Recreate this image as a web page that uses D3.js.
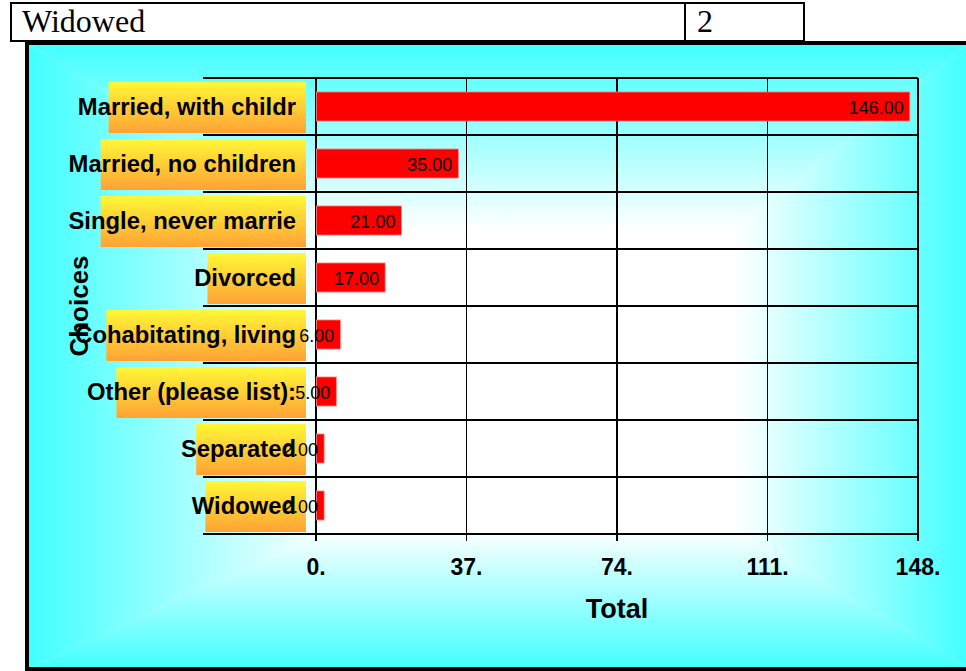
<!DOCTYPE html>
<html>
<head>
<meta charset="utf-8">
<script src="https://cdn.jsdelivr.net/npm/d3@7/dist/d3.min.js"></script>
<style>
  html, body { margin: 0; padding: 0; background: #ffffff; }
  svg { display: block; }
</style>
</head>
<body>
<script>
// ---- data ----
const categories = ["Married, with childr", "Married, no children", "Single, never marrie", "Divorced",
                    "Cohabitating, living", "Other (please list):", "Separated", "Widowed"];
const totals = [146, 35, 21, 17, 6, 5, 2, 2];
const tickValues = [0, 37, 74, 111, 148];
const tickLabels = ["0.", "37.", "74.", "111.", "148."];
const tableRow = ["Widowed", "2"];
const xTitle = "Total";
const yTitle = "Choices";

const W = 966, H = 671;
const svg = d3.select("body").append("svg").attr("width", W).attr("height", H);
const defs = svg.append("defs");
const SANS = "'Liberation Sans', Arial, Helvetica, sans-serif";
const SERIF = "'Liberation Serif', 'Times New Roman', serif";

// ---- top table row ----
svg.append("rect").attr("x", 11).attr("y", 3).attr("width", 793).attr("height", 38)
  .attr("fill", "#fff").attr("stroke", "#000").attr("stroke-width", 2);
svg.append("line").attr("x1", 685).attr("x2", 685).attr("y1", 3).attr("y2", 41)
  .attr("stroke", "#000").attr("stroke-width", 2);
svg.append("text").attr("x", 22).attr("y", 32).text(tableRow[0])
  .attr("font-family", SERIF).attr("font-size", 32).attr("fill", "#000");
svg.append("text").attr("x", 697).attr("y", 32).text(tableRow[1])
  .attr("font-family", SERIF).attr("font-size", 32).attr("fill", "#000");

// ---- chart frame with rectangular "from centre" gradient ----
const O = {x0: 27, y0: 43, x1: 970, y1: 669};
const I = {x0: 330, y0: 230, x1: 735, y1: 530};
const cyan = "#40ffff";
function grad(id, x1, y1, x2, y2) {
  const g = defs.append("linearGradient").attr("id", id).attr("gradientUnits", "userSpaceOnUse")
    .attr("x1", x1).attr("y1", y1).attr("x2", x2).attr("y2", y2);
  g.append("stop").attr("offset", 0).attr("stop-color", cyan);
  g.append("stop").attr("offset", 1).attr("stop-color", "#ffffff");
}
grad("gL", O.x0, 0, I.x0, 0);
grad("gR", O.x1, 0, I.x1, 0);
grad("gT", 0, O.y0, 0, I.y0);
grad("gB", 0, O.y1, 0, I.y1);
const bg = svg.append("g");
bg.append("rect").attr("x", I.x0 - 1).attr("y", I.y0 - 1).attr("width", I.x1 - I.x0 + 2).attr("height", I.y1 - I.y0 + 2).attr("fill", "#fff");
const poly = pts => pts.map(p => p.join(",")).join(" ");
bg.append("polygon").attr("fill", "url(#gL)").attr("points", poly([[O.x0,O.y0],[I.x0,I.y0],[I.x0,I.y1],[O.x0,O.y1]]));
bg.append("polygon").attr("fill", "url(#gR)").attr("points", poly([[O.x1,O.y0],[I.x1,I.y0],[I.x1,I.y1],[O.x1,O.y1]]));
bg.append("polygon").attr("fill", "url(#gT)").attr("points", poly([[O.x0,O.y0],[O.x1,O.y0],[I.x1,I.y0],[I.x0,I.y0]]));
bg.append("polygon").attr("fill", "url(#gB)").attr("points", poly([[O.x0,O.y1],[O.x1,O.y1],[I.x1,I.y1],[I.x0,I.y1]]));
svg.append("rect").attr("x", O.x0).attr("y", O.y0).attr("width", O.x1 - O.x0).attr("height", O.y1 - O.y0)
  .attr("fill", "none").attr("stroke", "#000").attr("stroke-width", 4);

// ---- scales ----
const plot = {left: 316, right: 918, top: 78, bottom: 534};
const x = d3.scaleLinear().domain([0, 148]).range([plot.left, plot.right]);
const yBand = d3.scaleBand().domain(categories).range([plot.top, plot.bottom]).padding(0);
const yBar = d3.scaleBand().domain(categories).range([plot.top, plot.bottom]).paddingInner(0.49).paddingOuter(0.245);

// ---- grid ----
const grid = svg.append("g").attr("stroke", "#000").attr("shape-rendering", "crispEdges");
const hLines = [plot.top].concat(categories.map(c => yBand(c) + yBand.bandwidth()));
grid.selectAll("line.h").data(hLines).join("line").attr("class", "h")
  .attr("x1", 203).attr("x2", plot.right).attr("y1", d => d).attr("y2", d => d).attr("stroke-width", 1.3);
grid.selectAll("line.v").data(tickValues).join("line").attr("class", "v")
  .attr("x1", d => x(d)).attr("x2", d => x(d)).attr("y1", plot.top).attr("y2", plot.bottom + 7).attr("stroke-width", 1.1);

// ---- category label boxes and labels ----
const boxGrad = defs.append("linearGradient").attr("id", "boxG").attr("x1", 0).attr("y1", 0).attr("x2", 0).attr("y2", 1);
boxGrad.append("stop").attr("offset", 0).attr("stop-color", "#fff835");
boxGrad.append("stop").attr("offset", 1).attr("stop-color", "#ffa236");

const labG = svg.append("g");
const boxes = labG.selectAll("rect").data(categories).join("rect").attr("fill", "url(#boxG)");
const labs = labG.selectAll("text").data(categories).join("text")
  .attr("x", 296).attr("y", d => yBand(d) + yBand.bandwidth() / 2 + 8.5)
  .attr("text-anchor", "end").attr("font-family", SANS).attr("font-weight", "bold").attr("font-size", 23.8)
  .attr("fill", "#000").text(d => d);
labs.each(function (d) {
  const len = this.getComputedTextLength();
  const bw = 0.85 * len + 12;
  boxes.filter(c => c === d)
    .attr("x", 306 - bw).attr("width", bw)
    .attr("y", yBand(d) + 4).attr("height", yBand.bandwidth() - 6);
});

// ---- bars ----
svg.append("g").selectAll("rect").data(categories).join("rect")
  .attr("x", x(0) + 0.5).attr("y", d => yBar(d))
  .attr("width", (d, i) => x(totals[i]) - x(0) - 0.5).attr("height", yBar.bandwidth())
  .attr("fill", "#ff0000").attr("stroke", "#ff8a8a").attr("stroke-width", 0.8);

// ---- value labels ----
svg.append("g").selectAll("text").data(categories).join("text")
  .attr("x", (d, i) => x(totals[i]) - 6).attr("y", d => yBand(d) + yBand.bandwidth() / 2 + 7)
  .attr("text-anchor", "end").attr("font-family", SANS).attr("font-size", 18).attr("fill", "#000")
  .text((d, i) => totals[i].toFixed(2));

// ---- x axis tick labels ----
svg.append("g").selectAll("text").data(tickValues).join("text")
  .attr("x", d => x(d)).attr("y", 575).attr("text-anchor", "middle")
  .attr("font-family", SANS).attr("font-weight", "bold").attr("font-size", 23).attr("fill", "#000")
  .text((d, i) => tickLabels[i]);

// ---- axis titles ----
svg.append("text").attr("x", (plot.left + plot.right) / 2).attr("y", 618).attr("text-anchor", "middle")
  .attr("font-family", SANS).attr("font-weight", "bold").attr("font-size", 27).attr("fill", "#000").text(xTitle);
svg.append("text").attr("transform", `translate(88,${(plot.top + plot.bottom) / 2}) rotate(-90)`)
  .attr("text-anchor", "middle")
  .attr("font-family", SANS).attr("font-weight", "bold").attr("font-size", 26).attr("fill", "#000").text(yTitle);
</script>
</body>
</html>
